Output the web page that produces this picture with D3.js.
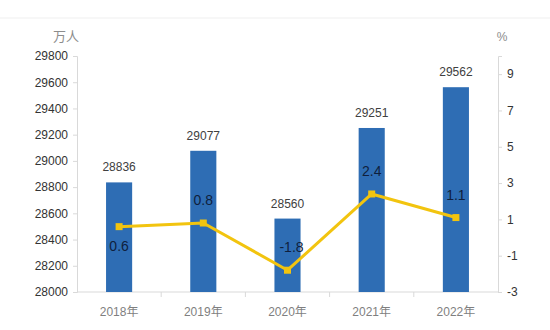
<!DOCTYPE html>
<html>
<head>
<meta charset="utf-8">
<script src="https://cdn.jsdelivr.net/npm/d3@7/dist/d3.min.js"></script>
<style>
  body { margin: 0; background: #fff; }
  svg text { font-family: "Liberation Sans", "Noto Sans CJK SC", sans-serif; }
</style>
</head>
<body>
<svg id="chart" width="550" height="330"></svg>
<script>
// Employment totals (万人) and year-on-year growth (%)
const years = ["2018年", "2019年", "2020年", "2021年", "2022年"];
const totals = [28836, 29077, 28560, 29251, 29562];
const growth = [0.6, 0.8, -1.8, 2.4, 1.1];
const leftTicks = [28000, 28200, 28400, 28600, 28800, 29000, 29200, 29400, 29600, 29800];
const rightTicks = [-3, -1, 1, 3, 5, 7, 9];
// label placement relative to each line point: above or below
const growthLabelPos = ["below", "above", "above", "above", "above"];

const svg = d3.select("#chart");
const m = { left: 77, right: 498, top: 56, bottom: 292 };
const plain = d => String(d); // hyphen-minus, not the typographic minus

svg.append("line").attr("x1", 0).attr("x2", 550).attr("y1", 18).attr("y2", 18)
  .attr("stroke", "#efefef").attr("stroke-width", 1);

const x = d3.scaleBand().domain(years).range([m.left, m.right]).paddingInner(0.69).paddingOuter(0.345);
const xb = d3.scaleBand().domain(years).range([m.left, m.right]);
const yL = d3.scaleLinear().domain([28000, 29800]).range([m.bottom, m.top]);
const yR = d3.scaleLinear().domain([-3, 10]).range([m.bottom, m.top]);

// left axis
const gL = svg.append("g").attr("transform", `translate(${m.left},0)`)
  .call(d3.axisLeft(yL).tickValues(leftTicks).tickSize(4).tickPadding(5).tickFormat(plain));
gL.select(".domain").attr("stroke", "#d9d9d9");
gL.selectAll(".tick line").attr("stroke", "#d9d9d9");
gL.selectAll("text").attr("font-size", 12).attr("fill", "#333");

// right axis
const gR = svg.append("g").attr("transform", `translate(${m.right},0)`)
  .call(d3.axisRight(yR).tickValues(rightTicks).tickSize(4).tickPadding(5).tickFormat(plain));
gR.select(".domain").attr("stroke", "#d9d9d9");
gR.selectAll(".tick line").attr("stroke", "#d9d9d9");
gR.selectAll("text").attr("font-size", 12).attr("fill", "#333");

// bottom axis with ticks between categories
svg.append("line").attr("x1", m.left).attr("x2", m.right).attr("y1", m.bottom).attr("y2", m.bottom)
  .attr("stroke", "#d9d9d9");
svg.selectAll(".xtick").data(years.slice(1)).enter().append("line")
  .attr("x1", d => xb(d)).attr("x2", d => xb(d))
  .attr("y1", m.bottom).attr("y2", m.bottom + 5).attr("stroke", "#d9d9d9");
svg.selectAll(".xlabel").data(years).enter().append("text")
  .attr("x", d => xb(d) + xb.bandwidth() / 2).attr("y", m.bottom + 24)
  .attr("text-anchor", "middle").attr("font-size", 12).attr("fill", "#7f7f7f").text(d => d);

// unit labels
svg.append("text").attr("x", 66).attr("y", 41).attr("text-anchor", "middle")
  .attr("font-size", 13).attr("fill", "#8c8c8c").text("万人");
svg.append("text").attr("x", 502).attr("y", 41).attr("text-anchor", "middle")
  .attr("font-size", 12).attr("fill", "#8c8c8c").text("%");

// bars
svg.selectAll(".bar").data(totals).enter().append("rect")
  .attr("x", (d, i) => x(years[i])).attr("width", x.bandwidth())
  .attr("y", d => yL(d)).attr("height", d => yL(28000) - yL(d))
  .attr("fill", "#2e6db4");
svg.selectAll(".barlabel").data(totals).enter().append("text")
  .attr("x", (d, i) => x(years[i]) + x.bandwidth() / 2).attr("y", d => yL(d) - 11)
  .attr("text-anchor", "middle").attr("font-size", 12).attr("fill", "#404040").text(d => d);

// growth line
const cx = i => xb(years[i]) + xb.bandwidth() / 2;
const line = d3.line().x((d, i) => cx(i)).y(d => yR(d));
svg.append("path").datum(growth).attr("d", line)
  .attr("fill", "none").attr("stroke", "#f2c40f").attr("stroke-width", 3).attr("stroke-linejoin", "round");
svg.selectAll(".pt").data(growth).enter().append("rect")
  .attr("x", (d, i) => cx(i) - 3.5).attr("y", d => yR(d) - 3.5)
  .attr("width", 7).attr("height", 7).attr("fill", "#f2c40f");
svg.selectAll(".glabel").data(growth).enter().append("text")
  .attr("x", (d, i) => cx(i) + (i === 2 ? 4 : 0))
  .attr("y", (d, i) => growthLabelPos[i] === "below" ? yR(d) + 24 : yR(d) - 18)
  .attr("text-anchor", "middle").attr("font-size", 14).attr("fill", "#0f1f3d")
  .text(d => d.toFixed(1));
</script>
</body>
</html>
